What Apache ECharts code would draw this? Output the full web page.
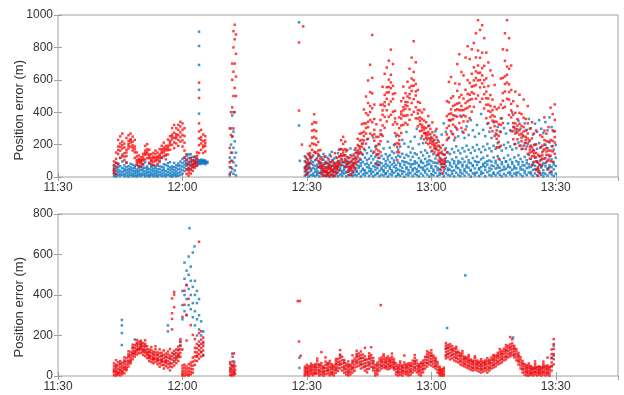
<!DOCTYPE html>
<html>
<head>
<meta charset="utf-8">
<script src="https://cdn.jsdelivr.net/npm/echarts@6/dist/echarts.min.js"></script>
<style>
  html, body { margin: 0; padding: 0; background: #fff; }
  #chart { width: 624px; height: 395px; }
</style>
</head>
<body>
<div id="chart"></div>
<script>
// time axis: minutes after 11:30
var timeTicks = ['11:30', '12:00', '12:30', '13:00', '13:30', '13:45'];
var yLabel = 'Position error (m)';

// each row: [minute, value, value, ...]
var topBlue = [
  [13.5, 6, 23, 41, 58, 74], [14.0, 3, 17, 35, 52, 88], [14.5, 11, 29, 46, 63, 79], [15.0, 7, 21, 38, 67, 118],
  [15.5, 14, 32, 55, 96, 138], [16.0, 4, 19, 37, 51, 72], [16.5, 9, 26, 43, 61, 89], [17.0, 2, 16, 33, 48, 67],
  [17.5, 12, 27, 44, 59, 81], [18.0, 5, 18, 36, 53, 76], [18.5, 8, 24, 39, 57, 69], [19.0, 3, 15, 31, 46, 73],
  [19.5, 10, 22, 38, 54, 64], [20.0, 6, 20, 42, 68, 102], [20.5, 13, 28, 45, 58, 77], [21.0, 4, 17, 34, 56, 91],
  [21.5, 9, 25, 40, 53, 66], [22.0, 2, 14, 31, 49, 82], [22.5, 11, 26, 43, 60, 71], [23.0, 5, 19, 36, 52, 75],
  [23.5, 8, 23, 39, 57, 68], [24.0, 3, 16, 32, 47, 70], [24.5, 12, 29, 48, 66, 101], [25.0, 6, 21, 40, 62, 121],
  [25.5, 9, 27, 44, 58, 79], [26.0, 4, 18, 37, 74, 132], [26.5, 13, 30, 49, 67, 86], [27.0, 7, 22, 41, 59, 92],
  [27.5, 2, 15, 33, 51, 65], [28.0, 10, 24, 42, 61, 87], [28.5, 5, 19, 35, 54, 72], [29.0, 8, 25, 47, 68, 83],
  [29.5, 14, 33, 52, 71, 95], [30.0, 21, 43, 64, 86, 112], [30.5, 36, 58, 77, 97, 121], [31.0, 47, 69, 88, 108, 131],
  [31.5, 54, 73, 94, 117, 139], [32.0, 51, 76, 98, 119, 141], [32.5, 62, 81, 101, 123], [33.0, 68, 87, 104, 126],
  [33.5, 74, 86, 97, 112], [34.0, 79, 88, 96, 104, 391, 538, 692, 809, 897], [34.5, 81, 90, 99, 107],
  [35.0, 84, 91, 98, 105], [35.5, 79, 88, 95, 102], [36.0, 86, 94],
  [41.4, 10, 60, 120], [41.7, 30, 100, 200, 300], [42.0, 50, 150, 250, 380],
  [42.3, 20, 90, 180, 280, 400], [42.6, 40, 120, 220], [42.9, 10, 70, 150],
  [58.1, 955, 318], [58.3, 100],
  [59.5, 8, 34, 61, 97, 128, 52], [60.0, 17, 43, 79, 112, 26, 66], [60.5, 4, 29, 58, 88, 137, 71],
  [61.0, 12, 47, 83, 119, 38, 101], [61.5, 21, 55, 92, 9, 74, 133], [62.0, 6, 31, 68, 104, 149, 47],
  [62.5, 14, 39, 77, 116, 58, 23], [63.0, 3, 27, 62, 95, 131, 84], [63.5, 19, 51, 86, 122, 36, 68],
  [64.0, 11, 44, 73, 107, 142, 28], [64.5, 7, 33, 59, 94, 126, 81], [65.0, 16, 48, 85, 118, 22, 63],
  [65.5, 2, 26, 57, 91, 138, 74], [66.0, 13, 41, 69, 103, 155, 37], [66.5, 9, 35, 78, 113, 52, 88],
  [67.0, 18, 46, 82, 121, 29, 64], [67.5, 5, 30, 61, 99, 147, 76], [68.0, 15, 42, 87, 128, 171, 56],
  [68.5, 8, 37, 72, 109, 24, 93], [69.0, 22, 53, 89, 134, 41, 67], [69.5, 4, 28, 64, 102, 158, 81],
  [70.0, 12, 45, 79, 117, 33, 95], [70.5, 17, 50, 91, 136, 62, 176], [71.0, 6, 32, 71, 108, 25, 84],
  [71.5, 14, 47, 86, 127, 168, 59], [72.0, 9, 39, 75, 114, 155, 31], [72.5, 20, 56, 98, 143, 189, 68],
  [73.0, 3, 34, 69, 106, 152, 85], [73.5, 16, 52, 93, 138, 207, 44], [74.0, 10, 41, 78, 119, 166, 27],
  [74.5, 24, 61, 104, 147, 232, 83], [75.0, 7, 36, 72, 113, 182, 55], [75.5, 18, 49, 88, 129, 161, 34],
  [76.0, 4, 31, 67, 109, 148, 243], [76.5, 13, 45, 82, 124, 187, 63], [77.0, 21, 54, 96, 139, 25, 76],
  [77.5, 6, 38, 74, 118, 201, 91], [78.0, 15, 47, 85, 131, 262, 58], [78.5, 9, 33, 69, 112, 176, 42],
  [79.0, 23, 58, 97, 141, 19, 79], [79.5, 3, 35, 71, 108, 218, 126], [80.0, 17, 51, 92, 134, 181, 64],
  [80.5, 11, 42, 77, 116, 158, 29], [81.0, 26, 63, 102, 148, 197, 87], [81.5, 5, 37, 73, 121, 251, 54],
  [82.0, 14, 46, 89, 132, 169, 21], [82.5, 8, 40, 81, 125, 188, 67], [83.0, 20, 57, 98, 143, 229, 36],
  [83.5, 2, 33, 76, 119, 206, 94], [84.0, 16, 52, 91, 137, 278, 61], [84.5, 10, 43, 84, 128, 186, 27],
  [85.0, 24, 62, 105, 151, 219, 78], [85.5, 6, 39, 79, 124, 176, 49], [86.0, 19, 55, 97, 146, 248, 83],
  [86.5, 12, 47, 88, 139, 297, 31], [87.0, 4, 36, 74, 117, 202, 65], [87.5, 21, 59, 101, 153, 238, 92],
  [88.0, 9, 44, 86, 133, 209, 58], [88.5, 27, 68, 112, 164, 271, 39], [89.0, 15, 51, 95, 149, 231, 76],
  [89.5, 3, 38, 81, 127, 318, 103], [90.0, 18, 57, 99, 158, 247, 69], [90.5, 11, 46, 89, 141, 218, 34],
  [91.0, 25, 66, 114, 172, 282, 88], [91.5, 7, 42, 85, 137, 229, 57], [92.0, 14, 49, 93, 119, 188, 26],
  [92.5, 20, 61, 107, 156, 262, 81], [93.0, 5, 39, 82, 138, 331, 63], [93.5, 23, 67, 118, 177, 279, 95],
  [94.0, 13, 52, 96, 151, 238, 41], [94.5, 8, 45, 88, 142, 349, 72], [95.0, 19, 63, 109, 173, 268, 35],
  [95.5, 4, 41, 84, 152, 227, 98], [96.0, 26, 71, 122, 189, 302, 59], [96.5, 12, 54, 99, 163, 251, 84],
  [97.0, 6, 43, 91, 146, 378, 28], [97.5, 21, 65, 113, 178, 281, 77], [98.0, 9, 48, 94, 158, 241, 36],
  [98.5, 28, 72, 125, 193, 312, 61], [99.0, 15, 57, 104, 168, 259, 89], [99.5, 3, 39, 86, 148, 351, 44],
  [100.0, 22, 68, 117, 183, 288, 73], [100.5, 11, 53, 98, 163, 248, 25], [101.0, 27, 74, 126, 198, 321, 92],
  [101.5, 7, 46, 92, 171, 268, 54], [102.0, 18, 61, 109, 152, 389, 33], [102.5, 24, 69, 119, 188, 291, 81],
  [103.0, 5, 44, 88, 168, 252, 62], [103.5, 29, 76, 131, 204, 328, 97], [104.0, 13, 56, 102, 177, 279, 38],
  [104.5, 8, 49, 95, 159, 241, 71], [105.0, 20, 67, 121, 193, 338, 27], [105.5, 10, 52, 99, 174, 268, 86],
  [106.0, 25, 73, 128, 209, 309, 58], [106.5, 14, 58, 106, 184, 281, 35], [107.0, 4, 43, 91, 163, 362, 79],
  [107.5, 19, 64, 117, 198, 302, 46], [108.0, 9, 51, 97, 178, 268, 94], [108.5, 26, 75, 133, 214, 331, 63],
  [109.0, 16, 59, 108, 188, 289, 31], [109.5, 6, 45, 92, 169, 398, 82], [110.0, 21, 68, 121, 203, 309, 54],
  [110.5, 11, 53, 98, 178, 281, 26], [111.0, 28, 77, 134, 213, 348, 91], [111.5, 15, 61, 111, 194, 299, 47],
  [112.0, 5, 46, 93, 174, 258, 73], [112.5, 23, 71, 124, 208, 331, 38], [113.0, 12, 55, 103, 189, 291, 86],
  [113.5, 27, 78, 136, 219, 358, 59], [114.0, 17, 63, 112, 194, 301, 29], [114.5, 7, 44, 88, 168, 262, 75],
  [115.0, 22, 69, 119, 199, 329, 48], [115.5, 10, 51, 96, 174, 279, 93], [116.0, 26, 74, 128, 209, 351, 36],
  [116.5, 14, 59, 107, 184, 298, 67], [117.0, 4, 42, 86, 163, 271, 24], [117.5, 19, 66, 117, 198, 339, 84],
  [118.0, 9, 52, 99, 179, 288, 45], [118.5, 25, 72, 126, 214, 368, 61], [119.0, 16, 61, 109, 189, 308, 32],
  [119.5, 6, 47, 92, 169, 281, 77], [120.0, 21, 68, 119, 198]
];

var topRed = [
  [13.5, 22, 47, 71, 96, 38], [14.0, 18, 64, 112, 151, 87], [14.5, 83, 142, 188, 229, 167],
  [15.0, 118, 163, 207, 251, 186], [15.5, 128, 176, 219, 268, 197], [16.0, 104, 147, 183, 206, 126],
  [16.5, 88, 129, 168, 241, 151], [17.0, 176, 204, 223, 258, 191], [17.5, 187, 212, 233, 268, 226],
  [18.0, 164, 196, 218, 249, 181], [18.5, 118, 152, 188, 229, 171], [19.0, 78, 104, 127, 152, 93],
  [19.5, 68, 89, 112, 133, 101], [20.0, 61, 84, 106, 122, 93], [20.5, 79, 102, 126, 143, 111],
  [21.0, 108, 137, 163, 192, 148], [21.5, 117, 142, 171, 203, 156], [22.0, 88, 116, 139, 168, 128],
  [22.5, 79, 97, 118, 141, 106], [23.0, 72, 94, 116, 148, 127], [23.5, 98, 121, 142, 163, 109],
  [24.0, 81, 104, 127, 151, 118], [24.5, 92, 117, 139, 172, 128], [25.0, 118, 146, 171, 193, 157],
  [25.5, 128, 152, 181, 212, 167], [26.0, 109, 138, 164, 192, 176], [26.5, 139, 166, 193, 231, 178],
  [27.0, 168, 196, 223, 252, 211], [27.5, 198, 232, 261, 302, 248], [28.0, 178, 213, 242, 273, 321],
  [28.5, 207, 238, 264, 301, 251], [29.0, 192, 228, 259, 291, 322], [29.5, 218, 247, 276, 312, 341],
  [30.0, 188, 226, 259, 292, 331], [30.5, 118, 163, 212, 253, 301], [31.0, 18, 47, 79, 104, 141],
  [31.5, 8, 27, 52, 81, 41], [32.0, 21, 44, 68, 92, 113], [32.5, 38, 59, 81, 103, 72],
  [33.0, 58, 79, 96, 121, 88], [33.5, 69, 92, 114, 131, 152], [34.0, 148, 196, 238, 281, 331, 488, 582],
  [34.5, 168, 207, 246, 291, 229], [35.0, 148, 183, 221, 262, 194], [35.5, 158, 191, 226, 252, 208],
  [41.4, 20, 90, 180, 300], [41.7, 60, 150, 260, 400], [42.0, 100, 250, 430, 600, 700],
  [42.3, 300, 500, 650, 800, 900], [42.6, 400, 550, 700, 850, 940], [42.9, 500, 620, 760, 880],
  [58.1, 830, 410], [58.8, 200], [59.1, 930],
  [59.75, 14, 38, 67, 92, 121, 55], [60.25, 23, 51, 78, 104, 143, 87], [60.75, 56, 84, 117, 148, 192, 131],
  [61.25, 124, 168, 207, 243, 286, 327], [61.75, 156, 203, 248, 291, 338, 387], [62.25, 108, 152, 197, 238, 283, 336],
  [62.75, 63, 98, 131, 164, 216, 142], [63.25, 24, 57, 88, 113, 166, 71], [63.75, 7, 29, 48, 72, 107, 61],
  [64.25, 9, 33, 58, 84, 126, 44], [64.75, 6, 21, 39, 57, 88, 31], [65.25, 8, 27, 52, 76, 107, 63],
  [65.75, 13, 38, 64, 91, 128, 49], [66.25, 4, 22, 46, 69, 97, 35], [66.75, 7, 31, 55, 83, 147, 66],
  [67.25, 23, 46, 68, 89, 118, 57], [67.75, 43, 72, 98, 126, 168, 85], [68.25, 74, 108, 141, 173, 227, 129],
  [68.75, 93, 132, 168, 204, 248, 151], [69.25, 63, 97, 134, 171, 218, 112], [69.75, 32, 61, 92, 124, 167, 78],
  [70.25, 11, 37, 63, 88, 117, 52], [70.75, 14, 42, 71, 98, 128, 57], [71.25, 33, 61, 87, 112, 138, 74],
  [71.75, 54, 86, 117, 148, 177, 102], [72.25, 93, 127, 163, 198, 236, 146], [72.75, 113, 152, 188, 224, 267, 171],
  [73.25, 143, 187, 228, 271, 326, 206], [73.75, 174, 226, 279, 331, 417, 253], [74.25, 206, 268, 331, 394, 497, 302],
  [74.75, 236, 308, 382, 457, 596, 341], [75.25, 268, 352, 438, 524, 693, 401], [75.75, 257, 338, 424, 516, 877, 612],
  [76.25, 156, 224, 291, 358, 447, 263], [76.75, 84, 138, 193, 247, 326, 172], [77.25, 73, 118, 163, 204, 248, 141],
  [77.75, 154, 221, 288, 352, 446, 263], [78.25, 253, 318, 384, 447, 557, 411], [78.75, 304, 371, 438, 507, 637, 462],
  [79.25, 343, 412, 483, 554, 676, 521], [79.75, 372, 448, 523, 601, 718, 556], [80.25, 384, 466, 548, 631, 786, 584],
  [80.75, 324, 403, 482, 563, 697, 512], [81.25, 203, 271, 339, 408, 517, 362], [81.75, 104, 153, 208, 261, 327, 186],
  [82.25, 152, 204, 253, 301, 368, 227], [82.75, 272, 318, 361, 404, 468, 387], [83.25, 322, 378, 431, 487, 558, 412],
  [83.75, 334, 378, 421, 463, 517, 443], [84.25, 323, 381, 438, 497, 588, 462], [84.75, 353, 418, 487, 552, 668, 511],
  [85.25, 384, 457, 531, 608, 737, 563], [85.75, 402, 481, 563, 648, 838, 597], [86.25, 362, 431, 503, 574, 708, 528],
  [86.75, 313, 361, 413, 464, 537, 392], [87.25, 283, 326, 368, 411, 458, 347], [87.75, 253, 287, 322, 358, 398, 306],
  [88.25, 233, 271, 309, 348, 417, 294], [88.75, 212, 243, 271, 302, 338, 258], [89.25, 203, 241, 278, 314, 376, 262],
  [89.75, 183, 211, 238, 264, 297, 226], [90.25, 163, 201, 238, 276, 337, 219], [90.75, 152, 178, 203, 229, 258, 191],
  [91.25, 133, 171, 208, 246, 297, 188], [91.75, 102, 133, 164, 193, 218, 147], [92.25, 43, 78, 113, 147, 178, 96],
  [92.75, 23, 61, 102, 141, 197, 83], [93.25, 52, 83, 111, 138, 168, 97], [93.75, 153, 228, 302, 376, 468, 263],
  [94.25, 243, 316, 388, 461, 587, 351], [94.75, 283, 352, 418, 487, 617, 392], [95.25, 263, 323, 381, 438, 498, 357],
  [95.75, 243, 311, 378, 446, 578, 412], [96.25, 293, 373, 453, 532, 697, 418], [96.75, 333, 413, 492, 573, 758, 457],
  [97.25, 303, 371, 438, 507, 648, 412], [97.75, 273, 343, 413, 484, 627, 381], [98.25, 293, 374, 457, 538, 737, 421],
  [98.75, 343, 427, 513, 598, 807, 468], [99.25, 363, 436, 508, 581, 728, 476], [99.75, 403, 481, 558, 637, 788, 523],
  [100.25, 433, 514, 596, 677, 827, 562], [100.75, 483, 568, 652, 738, 887, 611], [101.25, 503, 596, 688, 781, 968, 642],
  [101.75, 463, 553, 644, 736, 908, 598], [102.25, 483, 578, 672, 767, 937, 627], [102.75, 423, 511, 598, 686, 857, 556],
  [103.25, 363, 446, 527, 609, 768, 486], [103.75, 333, 408, 484, 561, 707, 447], [104.25, 303, 371, 438, 506, 658, 402],
  [104.75, 283, 348, 413, 478, 627, 381], [105.25, 253, 314, 373, 433, 568, 342], [105.75, 183, 236, 288, 341, 418, 262],
  [106.25, 113, 183, 254, 326, 428, 217], [106.75, 193, 278, 362, 447, 608, 321], [107.25, 333, 426, 518, 612, 788, 471],
  [107.75, 433, 528, 621, 717, 887, 574], [108.25, 483, 583, 682, 783, 968, 631], [108.75, 383, 478, 572, 668, 857, 524],
  [109.25, 283, 368, 452, 537, 688, 411], [109.75, 233, 283, 333, 384, 468, 308], [110.25, 203, 268, 331, 396, 527, 297],
  [110.75, 233, 274, 316, 357, 438, 294], [111.25, 193, 261, 329, 396, 508, 288], [111.75, 173, 221, 268, 316, 388, 243],
  [112.25, 193, 251, 308, 366, 478, 281], [112.75, 173, 211, 248, 286, 358, 229], [113.25, 143, 206, 268, 331, 438, 238],
  [113.75, 113, 151, 188, 226, 298, 169], [114.25, 73, 128, 183, 238, 338, 156], [114.75, 93, 128, 163, 198, 268, 146],
  [115.25, 43, 97, 148, 201, 287, 122], [115.75, 7, 34, 61, 88, 138, 48], [116.25, 23, 76, 128, 181, 258, 102],
  [116.75, 73, 113, 153, 193, 248, 134], [117.25, 113, 171, 228, 286, 368, 201], [117.75, 93, 136, 178, 221, 268, 157],
  [118.25, 53, 108, 163, 218, 308, 136], [118.75, 33, 98, 163, 228, 428, 131], [119.25, 93, 158, 223, 288, 388, 191],
  [119.75, 143, 213, 283, 353, 448, 246]
];

var bottomBlue = [
  [14.0, 20, 50], [15.0, 30, 60], [15.4, 277, 250, 212, 153], [16.0, 40, 70], [17.0, 70, 100],
  [18.0, 110, 140], [18.5, 180], [19.0, 130, 160], [20.0, 140, 165], [21.0, 125, 150], [22.0, 95, 120],
  [23.0, 85, 110], [24.0, 80, 105], [25.0, 75, 100], [26.0, 70, 95], [26.5, 220, 250], [27.0, 60, 90],
  [28.0, 75, 110], [29.0, 100, 130], [29.5, 150, 170],
  [30.0, 280, 350, 420], [30.5, 320, 400, 480, 560], [31.0, 300, 380, 450, 520], [31.5, 350, 430, 500, 590],
  [31.7, 730], [32.0, 330, 400, 470, 540], [32.5, 290, 360, 440, 610], [32.9, 640], [33.0, 250, 320, 400, 470],
  [33.5, 200, 280, 360, 420], [34.0, 150, 230, 300, 380], [34.5, 120, 200, 270], [35.0, 100, 160, 220],
  [41.5, 30, 60], [42.0, 50, 110], [42.5, 20, 70],
  [58.2, 40, 90],
  [60.0, 20, 40], [61.0, 30, 50], [62.0, 15, 45], [63.0, 25, 55], [64.0, 20, 40], [65.0, 30, 60],
  [66.0, 15, 40], [67.0, 35, 60], [68.0, 60, 100], [69.0, 40, 70], [70.0, 20, 50], [71.0, 40, 70],
  [72.0, 70, 100], [73.0, 60, 90], [74.0, 50, 80], [75.0, 60, 90], [76.0, 40, 70], [77.0, 30, 55],
  [78.0, 50, 75], [79.0, 45, 70], [80.0, 50, 75], [81.0, 40, 65], [82.0, 20, 40], [83.0, 25, 45],
  [84.0, 20, 45], [85.0, 25, 50], [86.0, 40, 70], [87.0, 25, 45], [88.0, 35, 60], [89.0, 65, 95],
  [90.0, 70, 100], [91.0, 50, 75], [92.0, 15, 30], [93.5, 100, 135], [93.8, 237], [94.0, 110, 140],
  [95.0, 105, 130], [96.0, 90, 115], [97.0, 75, 100], [98.0, 60, 85], [98.2, 497], [99.0, 50, 75],
  [100.0, 40, 65], [101.0, 40, 60], [102.0, 35, 55], [103.0, 40, 60], [104.0, 40, 65], [105.0, 55, 80],
  [106.0, 70, 100], [107.0, 85, 110], [108.0, 95, 125], [109.0, 110, 140], [109.7, 190], [110.0, 105, 135],
  [111.0, 75, 100], [112.0, 35, 60], [113.0, 20, 40], [114.0, 15, 35], [115.0, 20, 40], [116.0, 15, 30],
  [117.0, 20, 45], [118.0, 15, 35], [119.0, 50, 90], [119.5, 100, 150]
];

var bottomRed = [
  [13.5, 4, 18, 33, 47, 62, 25], [14.0, 2, 12, 28, 41, 56, 78], [14.5, 7, 21, 36, 52, 68, 14],
  [15.0, 3, 16, 30, 44, 59, 73], [15.5, 9, 24, 38, 51, 66, 19], [16.0, 14, 31, 46, 60, 77, 92],
  [16.5, 28, 43, 57, 72, 88, 36], [17.0, 47, 61, 76, 93, 108, 122], [17.5, 62, 78, 91, 104, 118, 71],
  [18.0, 83, 97, 112, 126, 141, 155], [18.5, 96, 109, 123, 138, 152, 117], [19.0, 106, 121, 134, 149, 163, 178],
  [19.5, 112, 127, 141, 156, 170, 133], [20.0, 115, 131, 146, 160, 174, 152], [20.5, 104, 119, 133, 148, 162, 126],
  [21.0, 98, 114, 129, 143, 158, 176], [21.5, 88, 103, 118, 132, 147, 111], [22.0, 74, 89, 103, 117, 131, 96],
  [22.5, 69, 84, 99, 114, 128, 143], [23.0, 63, 78, 92, 106, 121, 86], [23.5, 70, 86, 101, 116, 132, 147],
  [24.0, 58, 73, 88, 103, 117, 81], [24.5, 46, 63, 79, 95, 112, 131], [25.0, 54, 69, 85, 100, 115, 77],
  [25.5, 37, 55, 71, 88, 104, 126], [26.0, 49, 64, 80, 96, 111, 72], [26.5, 41, 58, 74, 91, 107, 121],
  [27.0, 28, 47, 66, 84, 101, 133], [27.5, 44, 62, 81, 98, 114, 230, 282, 310, 383],
  [28.0, 52, 71, 89, 106, 124, 402, 415, 340], [28.5, 63, 81, 98, 114, 131, 90],
  [29.0, 74, 93, 110, 127, 145, 102], [29.5, 95, 114, 132, 150, 168, 182],
  [30.0, 3, 12, 24, 38, 131, 292, 52], [30.5, 2, 14, 27, 41, 56, 352, 421], [31.0, 6, 19, 33, 47, 302, 448, 175],
  [31.5, 3, 11, 25, 39, 381, 58], [32.0, 8, 21, 36, 52, 66, 251], [32.5, 16, 33, 51, 70, 91, 203],
  [33.0, 55, 76, 97, 118, 139, 182], [33.5, 74, 95, 116, 137, 158, 101], [34.0, 86, 107, 128, 149, 170, 212, 663],
  [34.5, 96, 117, 138, 159, 180, 221], [35.0, 105, 126, 147, 168, 190],
  [41.5, 6, 22, 41, 68], [41.8, 3, 17, 35, 54], [42.1, 9, 28, 47, 72, 95], [42.4, 4, 19, 38, 57, 112], [42.7, 11, 30, 49],
  [57.8, 370], [58.1, 170], [58.3, 370], [58.5, 100],
  [59.5, 3, 12, 23, 35, 46], [60.0, 7, 18, 30, 41, 55], [60.5, 2, 14, 26, 38, 49], [61.0, 9, 20, 33, 45, 61],
  [61.5, 4, 16, 29, 42, 53], [62.0, 11, 24, 36, 48, 59], [62.5, 13, 28, 42, 57, 73, 86], [63.0, 3, 15, 29, 43, 56],
  [63.5, 8, 22, 37, 51, 64, 118], [64.0, 2, 13, 25, 38, 47], [64.5, 9, 24, 39, 55, 71, 92], [65.0, 12, 26, 39, 52, 64],
  [65.5, 4, 17, 31, 46, 62, 74], [66.0, 8, 21, 35, 48, 58], [66.5, 3, 16, 29, 42, 51], [67.0, 17, 31, 45, 59, 73, 84],
  [67.5, 26, 41, 56, 70, 85], [68.0, 38, 55, 72, 89, 106, 128], [68.5, 27, 44, 61, 78, 95], [69.0, 16, 32, 48, 63, 79],
  [69.5, 7, 21, 35, 49, 61], [70.0, 3, 14, 28, 43, 57, 72], [70.5, 8, 21, 34, 47, 56], [71.0, 17, 32, 46, 61, 76, 102],
  [71.5, 26, 42, 57, 72, 86], [72.0, 46, 62, 77, 93, 108, 124], [72.5, 51, 67, 82, 97, 111], [73.0, 37, 54, 71, 87, 104, 121],
  [73.5, 42, 58, 74, 90, 106], [74.0, 27, 45, 63, 80, 97, 139], [74.5, 18, 34, 51, 67, 82], [75.0, 36, 52, 68, 84, 99, 112],
  [75.5, 46, 62, 77, 91, 104, 142], [76.0, 27, 43, 58, 73, 88], [76.5, 3, 14, 27, 41, 55], [77.0, 8, 22, 37, 51, 66],
  [77.5, 27, 42, 57, 72, 86], [77.8, 350], [78.0, 37, 51, 65, 78, 91], [78.5, 42, 56, 70, 84, 98, 107],
  [79.0, 38, 51, 64, 77, 88], [79.5, 33, 46, 59, 72, 85, 96], [80.0, 37, 50, 63, 76, 87], [80.5, 43, 56, 69, 82, 95, 111],
  [81.0, 32, 46, 59, 72, 84], [81.5, 8, 21, 35, 49, 62], [82.0, 3, 16, 29, 42, 53], [82.5, 7, 20, 34, 48, 61, 72],
  [83.0, 2, 15, 28, 41, 52], [83.5, 12, 26, 40, 54, 67, 101], [84.0, 8, 21, 35, 48, 58], [84.5, 3, 15, 28, 41, 54, 63],
  [85.0, 7, 21, 35, 49, 62], [85.5, 17, 32, 47, 61, 76], [86.0, 27, 43, 58, 73, 88, 103], [86.5, 18, 33, 48, 62, 77],
  [87.0, 8, 22, 36, 49, 58], [87.5, 3, 17, 31, 45, 58, 67], [88.0, 18, 33, 48, 62, 76], [88.5, 37, 52, 67, 81, 95],
  [89.0, 47, 63, 79, 94, 109, 122], [89.5, 57, 72, 87, 101, 115], [90.0, 52, 68, 83, 98, 112, 127], [90.5, 46, 61, 76, 90, 101],
  [91.0, 37, 51, 65, 79, 90], [91.5, 17, 31, 45, 58, 69], [92.0, 3, 14, 26, 37, 46], [92.5, 2, 9, 18, 27, 34],
  [93.0, 3, 12, 23, 33, 41], [93.5, 87, 103, 119, 135, 150, 163], [94.0, 92, 108, 124, 139, 153],
  [94.5, 82, 98, 114, 130, 145, 157], [95.0, 87, 103, 119, 134, 148], [95.5, 77, 93, 108, 123, 136],
  [96.0, 72, 88, 103, 118, 133, 144], [96.5, 67, 83, 98, 112, 121], [97.0, 57, 72, 87, 101, 112],
  [97.5, 52, 67, 82, 97, 111, 123], [98.0, 47, 61, 75, 88, 96], [98.5, 42, 56, 70, 83, 92],
  [99.0, 37, 51, 65, 79, 92, 103], [99.5, 32, 46, 60, 73, 81], [100.0, 27, 41, 55, 68, 76],
  [100.5, 32, 47, 61, 75, 89, 97], [101.0, 27, 41, 55, 68, 76], [101.5, 22, 36, 50, 63, 71],
  [102.0, 17, 31, 45, 59, 72, 83], [102.5, 22, 36, 50, 63, 71], [103.0, 27, 41, 55, 68, 77],
  [103.5, 17, 32, 47, 61, 75, 88], [104.0, 27, 42, 57, 71, 80], [104.5, 37, 51, 65, 79, 91],
  [105.0, 42, 57, 71, 85, 97, 104], [105.5, 47, 62, 77, 91, 101], [106.0, 57, 72, 87, 101, 114],
  [106.5, 62, 77, 92, 106, 119, 133], [107.0, 67, 82, 97, 111, 124], [107.5, 77, 92, 107, 121, 134],
  [108.0, 82, 97, 112, 127, 141, 153], [108.5, 92, 107, 122, 136, 149], [109.0, 97, 112, 127, 142, 156, 192],
  [109.5, 102, 117, 132, 147, 161, 181], [110.0, 92, 107, 122, 136, 149], [110.5, 77, 92, 107, 121, 133],
  [111.0, 57, 72, 87, 101, 114], [111.5, 37, 52, 67, 81, 93], [112.0, 17, 32, 47, 61, 74],
  [112.5, 7, 21, 35, 48, 59], [113.0, 3, 16, 29, 42, 53], [113.5, 2, 13, 26, 39, 51, 62],
  [114.0, 7, 19, 31, 43, 49], [114.5, 3, 14, 25, 36, 41], [115.0, 8, 21, 34, 47, 59, 72],
  [115.5, 3, 15, 27, 38, 44], [116.0, 7, 19, 31, 42, 48], [116.5, 2, 14, 26, 37, 43],
  [117.0, 8, 21, 34, 47, 58, 71], [117.5, 3, 16, 29, 41, 49], [118.0, 7, 19, 32, 44, 52, 91],
  [118.5, 2, 14, 27, 39, 46], [119.0, 27, 47, 67, 88, 108, 131], [119.5, 57, 83, 108, 134, 158, 182]
];

function toPoints(rows) {
  var pts = [];
  rows.forEach(function (r) {
    for (var i = 1; i < r.length; i++) pts.push([r[0], r[i]]);
  });
  return pts;
}

var textColor = '#333333';
var frameColor = '#a0a0a0';
var fontFamily = 'Liberation Sans, Arial, sans-serif';
var blue = '#0072bd';
var red = '#ff0000';

function xAxisFor(gridIndex, top) {
  return {
    type: 'value', gridIndex: gridIndex, min: 0, max: 135, interval: 30,
    position: top ? 'top' : 'bottom',
    axisLine: { show: false },
    axisTick: { show: true, inside: true, length: 4, lineStyle: { color: frameColor } },
    axisLabel: {
      show: !top, color: textColor, fontSize: 12, margin: 5, fontFamily: fontFamily,
      formatter: function (v) { return timeTicks[Math.round(v / 30)]; },
      showMaxLabel: false
    },
    splitLine: { show: false }
  };
}

function yAxisFor(gridIndex, max, right) {
  return {
    type: 'value', gridIndex: gridIndex, min: 0, max: max, interval: 200,
    position: right ? 'right' : 'left',
    axisLine: { show: false },
    axisTick: { show: true, inside: true, length: 4, lineStyle: { color: frameColor } },
    axisLabel: {
      show: !right, color: textColor, fontSize: 12, margin: 5, fontFamily: fontFamily,
      formatter: function (v) { return String(v); }
    },
    splitLine: { show: false }
  };
}

function scatter(name, rows, color, xi, yi) {
  return {
    name: name, type: 'scatter', xAxisIndex: xi, yAxisIndex: yi,
    data: toPoints(rows), symbol: 'rect', symbolSize: 2.5, silent: true,
    itemStyle: { color: color, opacity: 0.75 }
  };
}

function yTitle(y) {
  return {
    type: 'text', left: 13, top: y, rotation: Math.PI / 2,
    style: { text: yLabel, fill: textColor, font: '13px ' + fontFamily }
  };
}

var chart = echarts.init(document.getElementById('chart'));
chart.setOption({
  animation: false,
  backgroundColor: '#ffffff',
  grid: [
    { left: 58, right: 6, top: 15, height: 162, show: true, borderColor: frameColor, borderWidth: 1 },
    { left: 58, right: 6, top: 214, height: 162, show: true, borderColor: frameColor, borderWidth: 1 }
  ],
  graphic: [yTitle(60), yTitle(257)],
  xAxis: [xAxisFor(0, false), xAxisFor(0, true), xAxisFor(1, false), xAxisFor(1, true)],
  yAxis: [yAxisFor(0, 1000, false), yAxisFor(0, 1000, true), yAxisFor(1, 800, false), yAxisFor(1, 800, true)],
  series: [
    scatter('top blue', topBlue, blue, 0, 0),
    scatter('top red', topRed, red, 0, 0),
    scatter('bottom blue', bottomBlue, blue, 2, 2),
    scatter('bottom red', bottomRed, red, 2, 2)
  ]
});
</script>
</body>
</html>
